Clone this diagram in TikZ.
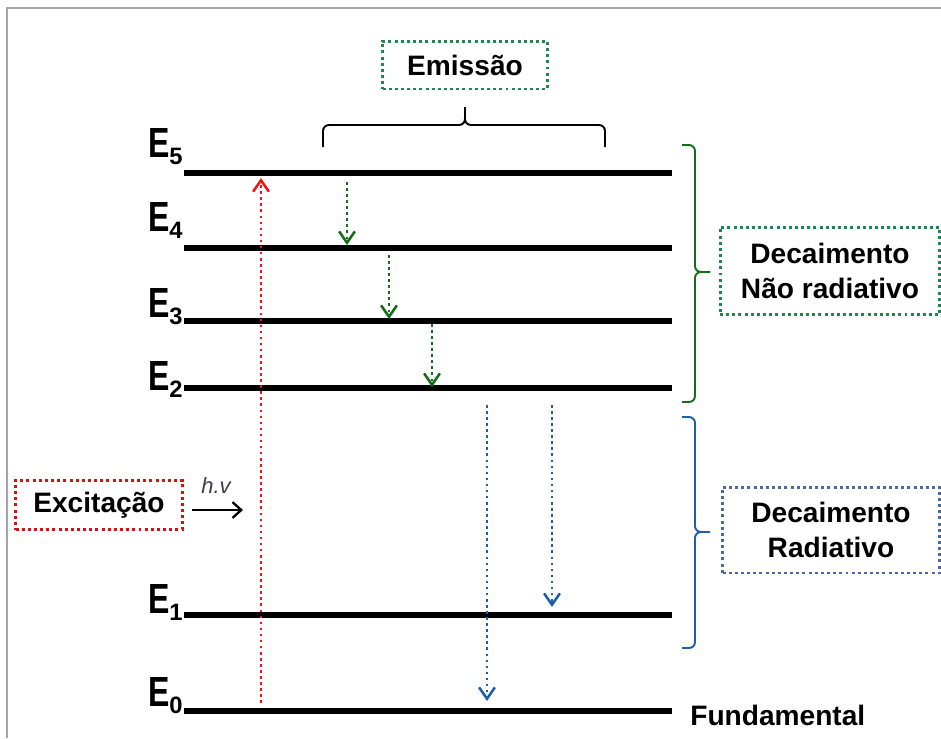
\documentclass[tikz,border=0pt]{standalone}
\usepackage{fontspec}
\setmainfont{Liberation Sans}
\usepackage{graphicx}
\usepackage{tikz}
\usetikzlibrary{arrows.meta, positioning, calc}

\definecolor{framegray}{RGB}{165,165,165}
\definecolor{exred}{RGB}{240,20,20}
\definecolor{boxred}{RGB}{215,15,15}
\definecolor{nrgreen}{RGB}{20,110,25}
\definecolor{boxgreen}{RGB}{30,135,80}
\definecolor{radblue}{RGB}{30,95,165}
\definecolor{boxblue}{RGB}{75,105,160}
\definecolor{hvgray}{RGB}{60,60,80}

\newcommand{\elev}[1]{\scalebox{0.76}[1]{E}\raisebox{-4pt}{\fontsize{13.5}{13.5}\selectfont #1}}

\begin{document}
\begin{tikzpicture}[x=0.02cm, y=-0.02cm,
    lvl/.style={line width=2.9pt},
    elab/.style={font=\fontsize{24}{24}\selectfont\bfseries, inner sep=0pt, anchor=base east},
    dotline/.style={line width=1.45pt, dash pattern=on 1.45pt off 2pt},
    decarrow/.style={-{Straight Barb[length=6.5pt,width=9pt]}},
    lbox/.style={draw, line width=1.7pt, dash pattern=on 1.7pt off 1.8pt, align=center,
        font=\fontsize{16}{20}\selectfont\bfseries, inner sep=0pt},
    brc/.style={line width=1.1pt, rounded corners=3.4pt}]

    \useasboundingbox (0,0) rectangle (941,738);
    \draw[framegray, line width=1.4pt] (7,738) -- (7,8) -- (941,8);

    \foreach \n/\y/\d in {5/173/-16, 4/248/-17, 3/321/-4, 2/388/2, 1/615/-2, 0/711/-5}{
        \coordinate (a\n) at (184,\y);
        \coordinate (b\n) at (672,\y);
        \draw[lvl] (a\n) -- (b\n);
        \node[elab] (e\n) at (183,{\y+\d}) {\elev{\n}};
    }

    \coordinate (exbot) at (261,703);
    \coordinate (extop) at (261,178);
    \draw[dotline, decarrow, exred] (exbot) -- (extop);

    \coordinate (g1s) at (347,182);
    \coordinate (g1e) at (347,245);
    \coordinate (g2s) at (389,255);
    \coordinate (g2e) at (389,319);
    \coordinate (g3s) at (432,324);
    \coordinate (g3e) at (432,387);
    \draw[dotline, decarrow, nrgreen] (g1s) -- (g1e);
    \draw[dotline, decarrow, nrgreen] (g2s) -- (g2e);
    \draw[dotline, decarrow, nrgreen] (g3s) -- (g3e);

    \coordinate (r1s) at (487,405);
    \coordinate (r1e) at (487,701);
    \coordinate (r2s) at (552,405);
    \coordinate (r2e) at (552,607);
    \draw[dotline, decarrow, radblue] (r1s) -- (r1e);
    \draw[dotline, decarrow, radblue] (r2s) -- (r2e);

    \node[lbox, draw=boxgreen, minimum width=3.3cm, minimum height=0.96cm] (emis) at (465,65) {Emissão};
    \node[lbox, draw=boxgreen, minimum width=4.4cm, minimum height=1.74cm] (naorad) at (830,271) {Decaimento\\Não radiativo};
    \node[lbox, draw=boxblue, minimum width=4.34cm, minimum height=1.72cm] (rad) at (831,530) {Decaimento\\Radiativo};
    \node[lbox, draw=boxred, minimum width=3.34cm, minimum height=0.98cm] (exc) at (99,505) {Excitação};

    \node[font=\fontsize{12.5}{12.5}\selectfont\itshape, text=hvgray] (hv) at (216,486) {h.v};
    \coordinate (hvs) at (192,510);
    \coordinate (hve) at (243,510);
    \draw[line width=1.3pt, -{Straight Barb[length=5pt,width=9pt]}] (hvs) -- (hve);

    \node[font=\fontsize{16}{16}\selectfont\bfseries, anchor=base west, inner sep=0pt] (fund) at (690,725) {Fundamental};

    \draw[brc] (323,147) -- (323,125) -- (465,125) -- (465,107);
    \draw[brc] (605,147) -- (605,125) -- (465,125) -- (465,107);
    \draw[brc, nrgreen] (682,145) -- (695,145) -- (695,272) -- (710,272);
    \draw[brc, nrgreen] (682,402) -- (695,402) -- (695,272) -- (710,272);
    \draw[brc, radblue] (682,417) -- (695,417) -- (695,532) -- (710,532);
    \draw[brc, radblue] (682,648) -- (695,648) -- (695,532) -- (710,532);
\end{tikzpicture}
\end{document}
